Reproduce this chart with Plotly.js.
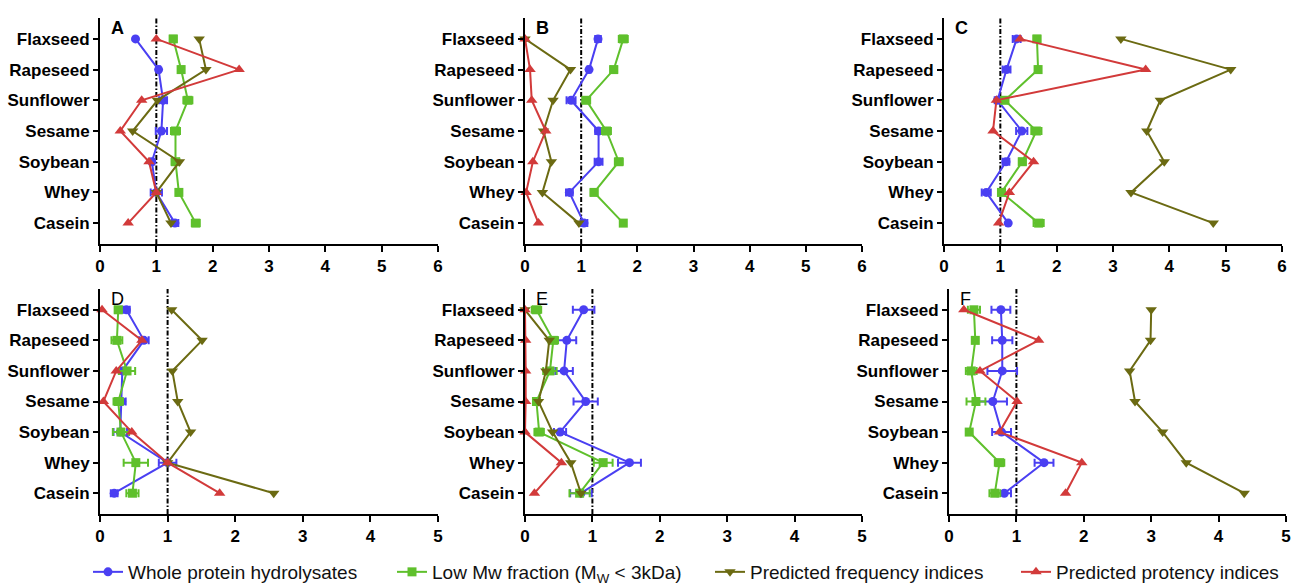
<!DOCTYPE html>
<html>
<head>
<meta charset="utf-8">
<script src="https://cdn.plot.ly/plotly-3.0.1.min.js"></script>
<style>html,body{margin:0;padding:0;background:#fff;}#chart{width:1293px;height:585px;}</style>
</head>
<body>
<div id="chart"></div>
<script>
// ---- Data ----
var categories = ["Flaxseed", "Rapeseed", "Sunflower", "Sesame", "Soybean", "Whey", "Casein"];
var panelLabels = ["A", "B", "C", "D", "E", "F"];
var seriesNames = ["Whole protein hydrolysates", "Low Mw fraction (M<sub>W</sub> &lt; 3kDa)", "Predicted frequency indices", "Predicted protency indices"];
var xTicksTop = [0, 1, 2, 3, 4, 5, 6];
var xTicksBottom = [0, 1, 2, 3, 4, 5];

// Panel A
var wholeA    = [0.63, 1.04, 1.12, 1.09, 0.92, 1.00, 1.33];
var wholeAErr = [0.00, 0.03, 0.07, 0.10, 0.03, 0.10, 0.06];
var lowA      = [1.30, 1.44, 1.56, 1.34, 1.34, 1.40, 1.70];
var lowAErr   = [0.06, 0.04, 0.08, 0.08, 0.07, 0.04, 0.07];
var freqA     = [1.76, 1.88, 1.02, 0.58, 1.41, 1.00, 1.26];
var potA      = [1.00, 2.47, 0.74, 0.36, 0.87, 1.00, 0.50];
// Panel B
var wholeB    = [1.30, 1.14, 0.82, 1.31, 1.31, 0.79, 1.05];
var wholeBErr = [0.05, 0.03, 0.08, 0.06, 0.07, 0.06, 0.06];
var lowB      = [1.75, 1.58, 1.09, 1.45, 1.67, 1.23, 1.75];
var lowBErr   = [0.08, 0.06, 0.07, 0.08, 0.07, 0.06, 0.04];
var freqB     = [0.00, 0.81, 0.50, 0.33, 0.47, 0.31, 0.96];
var potB      = [0.00, 0.09, 0.12, 0.37, 0.14, 0.02, 0.24];
// Panel C
var wholeC    = [1.29, 1.11, 0.95, 1.38, 1.10, 0.75, 1.14];
var wholeCErr = [0.07, 0.07, 0.05, 0.10, 0.06, 0.08, 0.02];
var lowC      = [1.65, 1.67, 1.08, 1.64, 1.39, 1.02, 1.68];
var lowCErr   = [0.06, 0.04, 0.06, 0.09, 0.06, 0.06, 0.09];
var freqC     = [3.14, 5.09, 3.84, 3.60, 3.91, 3.32, 4.78];
var potC      = [1.35, 3.58, 0.93, 0.87, 1.59, 1.16, 0.97];
// Panel D
var wholeD    = [0.39, 0.65, 0.33, 0.32, 0.30, 1.00, 0.21];
var wholeDErr = [0.05, 0.07, 0.05, 0.06, 0.10, 0.13, 0.05];
var lowD      = [0.27, 0.25, 0.40, 0.27, 0.31, 0.53, 0.48];
var lowDErr   = [0.05, 0.08, 0.12, 0.07, 0.12, 0.18, 0.09];
var freqD     = [1.06, 1.51, 1.07, 1.15, 1.34, 1.00, 2.57];
var potD      = [0.03, 0.62, 0.24, 0.05, 0.47, 1.00, 1.77];
// Panel E
var wholeE    = [0.87, 0.62, 0.58, 0.90, 0.52, 1.55, 0.83];
var wholeEErr = [0.16, 0.14, 0.13, 0.18, 0.09, 0.17, 0.16];
var lowE      = [0.17, 0.42, 0.37, 0.17, 0.21, 1.16, 0.81];
var lowEErr   = [0.07, 0.07, 0.10, 0.05, 0.07, 0.14, 0.15];
var freqE     = [0.00, 0.36, 0.31, 0.20, 0.41, 0.68, 0.83];
var potE      = [0.00, 0.01, 0.01, 0.01, 0.00, 0.54, 0.14];
// Panel F
var wholeF    = [0.77, 0.79, 0.79, 0.65, 0.78, 1.41, 0.82];
var wholeFErr = [0.14, 0.15, 0.22, 0.21, 0.14, 0.14, 0.10];
var lowF      = [0.37, 0.39, 0.33, 0.40, 0.30, 0.75, 0.68];
var lowFErr   = [0.09, 0.04, 0.08, 0.14, 0.04, 0.07, 0.08];
var freqF     = [3.00, 2.99, 2.68, 2.76, 3.17, 3.52, 4.38];
var potF      = [0.22, 1.33, 0.46, 1.01, 0.75, 1.97, 1.73];

// ---- Styling / layout ----
var W = 1293, H = 585;
var colors = ["#4a3ff2", "#5fc02c", "#6b6a12", "#d23a3a"];
var symbols = ["circle", "square", "triangle-down", "triangle-up"];
var msizes = [9, 9, 10, 10];
var FONT = "Liberation Sans, Arial, Helvetica, sans-serif";
var legendIds = ["legend", "legend2", "legend3", "legend4"];
var legendLeft = [88, 392, 710, 1016];

var panels = [
  {whole: wholeA, wErr: wholeAErr, low: lowA, lErr: lowAErr, freq: freqA, pot: potA, px: [100, 438], py: [18, 244], xmax: 6, ticks: xTicksTop, bold: true},
  {whole: wholeB, wErr: wholeBErr, low: lowB, lErr: lowBErr, freq: freqB, pot: potB, px: [525, 862], py: [18, 244], xmax: 6, ticks: xTicksTop, bold: true},
  {whole: wholeC, wErr: wholeCErr, low: lowC, lErr: lowCErr, freq: freqC, pot: potC, px: [944, 1282], py: [18, 244], xmax: 6, ticks: xTicksTop, bold: true},
  {whole: wholeD, wErr: wholeDErr, low: lowD, lErr: lowDErr, freq: freqD, pot: potD, px: [100, 438], py: [289, 514], xmax: 5, ticks: xTicksBottom, bold: false},
  {whole: wholeE, wErr: wholeEErr, low: lowE, lErr: lowEErr, freq: freqE, pot: potE, px: [525, 862], py: [289, 514], xmax: 5, ticks: xTicksBottom, bold: false},
  {whole: wholeF, wErr: wholeFErr, low: lowF, lErr: lowFErr, freq: freqF, pot: potF, px: [949, 1286], py: [289, 514], xmax: 5, ticks: xTicksBottom, bold: false}
];

var traces = [];
var layout = {
  width: W, height: H,
  margin: {l: 0, r: 0, t: 0, b: 0, autoexpand: false},
  paper_bgcolor: "#ffffff",
  plot_bgcolor: "#ffffff",
  font: {family: FONT, color: "#000"},
  showlegend: true,
  shapes: [],
  annotations: []
};
legendIds.forEach(function (id, k) {
  layout[id] = {
    orientation: "h",
    x: legendLeft[k] / W, xanchor: "left",
    y: 1 - 572 / H, yanchor: "middle",
    font: {family: FONT, size: 19, color: "#111"},
    borderwidth: 0,
    bgcolor: "rgba(0,0,0,0)"
  };
});

panels.forEach(function (p, i) {
  var n = i + 1;
  var xa = n === 1 ? "x" : "x" + n;
  var ya = n === 1 ? "y" : "y" + n;
  var seriesVals = [p.whole, p.low, p.freq, p.pot];
  var seriesErr = [p.wErr, p.lErr, null, null];
  for (var s = 0; s < 4; s++) {
    var tr = {
      type: "scatter",
      mode: "lines+markers",
      x: seriesVals[s],
      y: categories,
      xaxis: xa, yaxis: ya,
      name: seriesNames[s],
      legend: legendIds[s],
      legendgroup: "s" + s,
      showlegend: i === 0,
      line: {color: colors[s], width: 2},
      marker: {color: colors[s], symbol: symbols[s], size: msizes[s]},
      cliponaxis: false
    };
    if (seriesErr[s]) {
      tr.error_x = {type: "data", array: seriesErr[s], visible: true, color: colors[s], thickness: 2, width: 4};
    }
    traces.push(tr);
  }
  var xkey = n === 1 ? "xaxis" : "xaxis" + n;
  var ykey = n === 1 ? "yaxis" : "yaxis" + n;
  layout[xkey] = {
    domain: [p.px[0] / W, p.px[1] / W],
    anchor: ya,
    range: [0, p.xmax],
    tickmode: "array",
    tickvals: p.ticks,
    ticktext: p.ticks.map(String),
    showgrid: false, zeroline: false,
    showline: true, linecolor: "#000", linewidth: 2,
    ticks: "outside", ticklen: 6, tickwidth: 2, tickcolor: "#000",
    tickfont: {family: FONT, size: 17, color: "#000", weight: "bold"},
    fixedrange: true
  };
  layout[ykey] = {
    domain: [1 - p.py[1] / H, 1 - p.py[0] / H],
    anchor: xa,
    type: "category",
    categoryorder: "array",
    categoryarray: categories,
    range: [6.68, -0.68],
    showgrid: false, zeroline: false,
    showline: true, linecolor: "#000", linewidth: 2,
    ticks: "outside", ticklen: 5, tickwidth: 2, tickcolor: "#000",
    tickfont: {family: FONT, size: 17, color: "#000", weight: "bold"},
    fixedrange: true
  };
  // reference line at x = 1
  layout.shapes.push({
    type: "line", xref: xa, yref: ya + " domain",
    x0: 1, x1: 1, y0: 0, y1: 1,
    line: {color: "#000", width: 2, dash: "5px,2px,1.5px,2px"},
    layer: "below"
  });
  // panel letter
  layout.annotations.push({
    text: p.bold ? "<b>" + panelLabels[i] + "</b>" : panelLabels[i],
    xref: xa + " domain", yref: ya + " domain",
    x: 9 / (p.px[1] - p.px[0]), y: 1 + 2 / (p.py[1] - p.py[0]),
    xanchor: "left", yanchor: "top",
    showarrow: false,
    font: {family: FONT, size: 18, color: "#000"}
  });
});

Plotly.newPlot("chart", traces, layout, {displayModeBar: false, staticPlot: true});
</script>
</body>
</html>
